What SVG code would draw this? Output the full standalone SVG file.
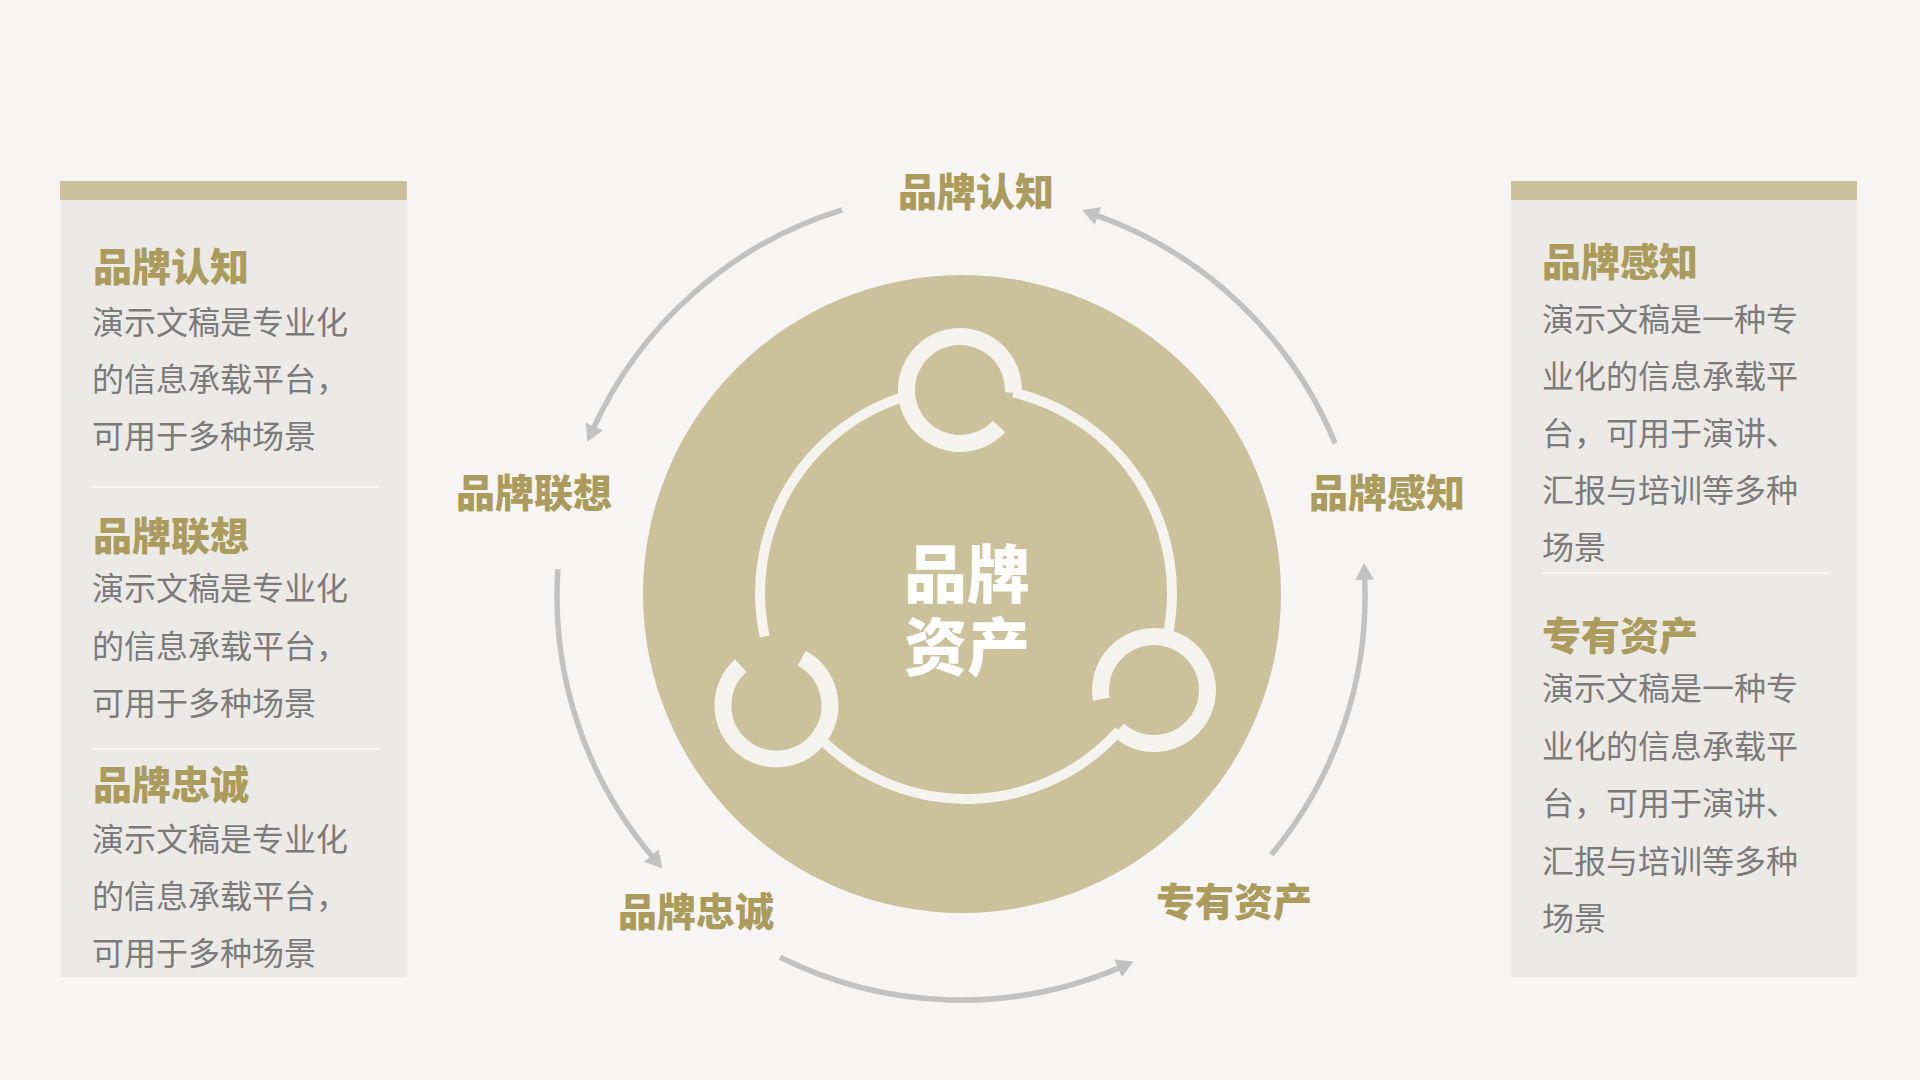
<svg xmlns="http://www.w3.org/2000/svg" width="1920" height="1080" viewBox="0 0 1920 1080">
<defs>
<style>
.bg{fill:#f6f5f3}
.panel{fill:#ebeae7}
.bar{fill:#cbc09a}
.sep{stroke:#f8f7f4;stroke-width:2}
.title{font-family:'Noto Sans CJK SC','Noto Sans',sans-serif;font-weight:900;font-size:39px;fill:#ab9b5c}
.body{font-family:'Noto Sans CJK SC','Noto Sans',sans-serif;font-weight:400;font-size:32px;fill:#7b7b7b}
.label{font-family:'Noto Sans CJK SC','Noto Sans',sans-serif;font-weight:900;font-size:39px;fill:#ab9b5c;text-anchor:middle}
.center{font-family:'Noto Sans CJK SC','Noto Sans',sans-serif;font-weight:900;font-size:63px;fill:#ffffff;text-anchor:middle}
.ring{fill:none;stroke:#f4f3ee;stroke-width:10}
.small{fill:none;stroke:#f4f3ee;stroke-width:17}
.arc{fill:none;stroke:#c2c2c2;stroke-width:5.5;marker-end:url(#ah)}
</style>
<marker id="ah" markerUnits="userSpaceOnUse" viewBox="0 0 17 19" markerWidth="17" markerHeight="19" refX="3" refY="9.5" orient="auto">
<path d="M0,0 L17,9.5 L0,19 z" fill="#c2c2c2"/>
</marker>
</defs>
<rect class="bg" x="0" y="0" width="1920" height="1080"/>

<g id="panel-left">
<rect class="panel" x="61" y="181" width="346" height="796"/>
<rect class="bar" x="60" y="181" width="347" height="19"/>
<text class="title" x="93" y="281">品牌认知</text>
<text class="body" x="92" y="334">演示文稿是专业化</text>
<text class="body" x="92" y="391">的信息承载平台，</text>
<text class="body" x="92" y="448">可用于多种场景</text>
<line class="sep" x1="92" y1="487" x2="379" y2="487"/>
<text class="title" x="93" y="550">品牌联想</text>
<text class="body" x="92" y="600">演示文稿是专业化</text>
<text class="body" x="92" y="658">的信息承载平台，</text>
<text class="body" x="92" y="715">可用于多种场景</text>
<line class="sep" x1="92" y1="749" x2="379" y2="749"/>
<text class="title" x="93" y="799">品牌忠诚</text>
<text class="body" x="92" y="851">演示文稿是专业化</text>
<text class="body" x="92" y="908">的信息承载平台，</text>
<text class="body" x="92" y="965">可用于多种场景</text>
</g>

<g id="panel-right">
<rect class="panel" x="1511" y="181" width="346" height="796"/>
<rect class="bar" x="1511" y="181" width="346" height="19"/>
<text class="title" x="1542" y="276">品牌感知</text>
<text class="body" x="1542" y="331">演示文稿是一种专</text>
<text class="body" x="1542" y="388">业化的信息承载平</text>
<text class="body" x="1542" y="445">台，可用于演讲、</text>
<text class="body" x="1542" y="502">汇报与培训等多种</text>
<text class="body" x="1542" y="559">场景</text>
<line class="sep" x1="1542" y1="573" x2="1829" y2="573"/>
<text class="title" x="1542" y="650">专有资产</text>
<text class="body" x="1542" y="700">演示文稿是一种专</text>
<text class="body" x="1542" y="758">业化的信息承载平</text>
<text class="body" x="1542" y="815">台，可用于演讲、</text>
<text class="body" x="1542" y="873">汇报与培训等多种</text>
<text class="body" x="1542" y="930">场景</text>
</g>

<g id="hub">
<circle cx="962" cy="594" r="319" fill="#cbc19b"/>
<path class="ring" d="M764.7,636.5 A206,206 0 0 1 906.8,395.7"/>
<path class="ring" d="M1013.4,392.5 A206,206 0 0 1 1167,638.1"/>
<path class="ring" d="M1119.2,730.7 A206,206 0 0 1 819.3,737.6"/>
<path class="small" d="M999.1,426.5 A53.5,53.5 0 1 1 1013.4,392.8"/>
<path class="small" d="M1101.3,699.3 A53.5,53.5 0 1 1 1118.2,729.8"/>
<path class="small" d="M801.6,658.3 A53.5,53.5 0 1 1 740.7,665.7"/>
<text class="center"><tspan x="967" y="597">品牌</tspan><tspan x="967" y="670">资产</tspan></text>
</g>

<g id="node-renzhi"><text class="label" x="976" y="206">品牌认知</text></g>
<g id="node-lianxiang"><text class="label" x="534" y="507">品牌联想</text></g>
<g id="node-ganzhi"><text class="label" x="1387" y="507">品牌感知</text></g>
<g id="node-zhongcheng"><text class="label" x="696" y="926">品牌忠诚</text></g>
<g id="node-zichan"><text class="label" x="1234" y="916">专有资产</text></g>

<g id="connectors">
<path class="arc" d="M842.2,209.9 A404,404 0 0 0 593.1,429.1"/>
<path class="arc" d="M1335.1,443.4 A404,404 0 0 0 1095.2,214.9"/>
<path class="arc" d="M557.9,569.2 A404,404 0 0 0 653.3,857.8"/>
<path class="arc" d="M780.1,957.3 A404,404 0 0 0 1120.8,967.1"/>
<path class="arc" d="M1271.4,854.6 A404,404 0 0 0 1364.6,577"/>
</g>
</svg>
